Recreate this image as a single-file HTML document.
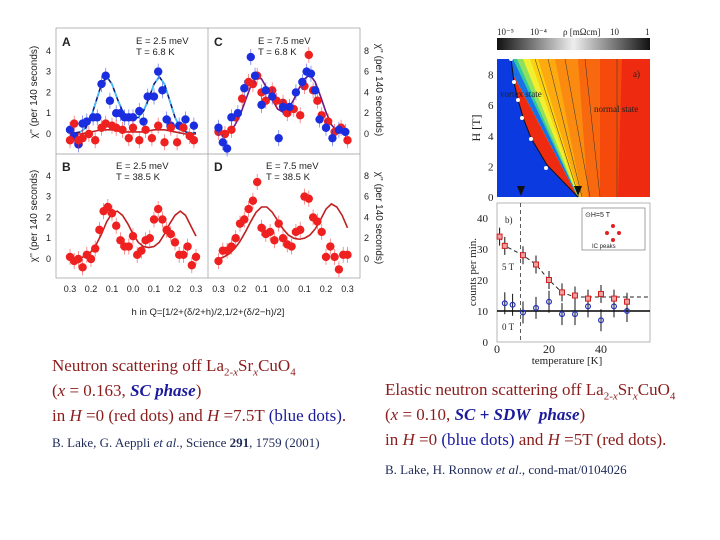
<!DOCTYPE html>
<html><head><meta charset="utf-8"><style>
body{margin:0;background:#fff;width:720px;height:540px;overflow:hidden;position:relative;font-family:"Liberation Serif",serif}
.t{position:absolute;white-space:nowrap;font-size:17px;color:#8a1c1c}
.b{color:#1a1a9a}
.cit{font-size:13px;color:#1e2a5a}
svg{position:absolute;left:0;top:0}
</style></head><body>
<svg id="s" width="720" height="540"></svg>

<div class="t" style="left:52px;top:356px">Neutron scattering off La<sub style="font-size:11px">2-<i>x</i></sub>Sr<sub style="font-size:11px"><i>x</i></sub>CuO<sub style="font-size:11px">4</sub></div>
<div class="t" style="left:52px;top:381px">(<i>x</i> = 0.163, <b class="b"><i>SC phase</i></b>)</div>
<div class="t" style="left:52px;top:406px">in <i>H</i> =0 (red dots) and <i>H</i> =7.5T <span class="b">(blue dots)</span>.</div>
<div class="t cit" style="left:52px;top:435px">B. Lake, G. Aeppli <i>et al</i>., Science <b>291</b>, 1759 (2001)</div>

<div class="t" style="left:385px;top:380px">Elastic neutron scattering off La<sub style="font-size:11px">2-<i>x</i></sub>Sr<sub style="font-size:11px"><i>x</i></sub>CuO<sub style="font-size:11px">4</sub></div>
<div class="t" style="left:385px;top:405px">(<i>x</i> = 0.10, <b class="b"><i>SC + SDW&nbsp; phase</i></b>)</div>
<div class="t" style="left:385px;top:430px">in <i>H</i> =0 <span class="b">(blue dots)</span> and <i>H</i> =5T (red dots).</div>
<div class="t cit" style="left:385px;top:462px">B. Lake, H. Ronnow <i>et al</i>., cond-mat/0104026</div>

<script>
// ---- data: panels A-D (h, chi'') ----
const hA_blue=[-0.3,-0.28,-0.26,-0.24,-0.22,-0.19,-0.17,-0.15,-0.13,-0.11,-0.08,-0.06,-0.04,-0.02,0.0,0.03,0.05,0.07,0.1,0.12,0.14,0.16,0.18,0.22,0.25,0.29];
const vA_blue=[0.2,-0.1,-0.5,0.5,0.6,0.8,0.8,2.4,2.8,1.6,1.0,1.0,0.8,0.8,0.8,1.1,0.6,1.8,1.8,3.0,2.1,0.7,0.4,0.4,0.7,0.4];
const hA_red=[-0.3,-0.28,-0.26,-0.24,-0.21,-0.18,-0.15,-0.13,-0.1,-0.08,-0.05,-0.02,0.0,0.03,0.06,0.09,0.12,0.15,0.18,0.21,0.24,0.27,0.29];
const vA_red=[-0.3,0.5,-0.3,-0.2,0.0,-0.3,0.3,0.5,0.4,0.3,0.2,-0.2,0.3,-0.3,0.2,-0.2,0.4,-0.4,0.3,-0.4,0.3,-0.1,-0.3];
const hFit=[-0.3,-0.275,-0.25,-0.225,-0.2,-0.175,-0.15,-0.125,-0.1,-0.075,-0.05,-0.025,0,0.025,0.05,0.075,0.1,0.125,0.15,0.175,0.2,0.225,0.25,0.275,0.3];
const fA_blue=[0.05,0.05,0.1,0.3,0.8,1.6,2.4,2.75,2.4,1.7,1.1,0.8,0.75,0.8,1.1,1.7,2.4,2.75,2.4,1.6,0.8,0.3,0.1,0.05,0.05];
const fA_red=[0,0,0,0.05,0.1,0.15,0.2,0.2,0.2,0.15,0.1,0.1,0.1,0.1,0.1,0.15,0.2,0.2,0.2,0.15,0.1,0.05,0,0,0];
const hB=[-0.3,-0.28,-0.26,-0.24,-0.22,-0.2,-0.18,-0.16,-0.14,-0.12,-0.1,-0.08,-0.06,-0.04,-0.02,0.0,0.02,0.04,0.06,0.08,0.1,0.12,0.14,0.16,0.18,0.2,0.22,0.24,0.26,0.28,0.3];
const vB=[0.1,-0.1,0.0,-0.4,0.2,0.0,0.5,1.4,2.3,2.5,2.2,1.6,0.9,0.6,0.6,1.1,0.2,0.4,0.9,1.0,1.9,2.4,1.9,1.4,1.2,0.8,0.2,0.2,0.6,-0.3,0.1];
const fB=[0,0,0.05,0.15,0.35,0.7,1.2,1.8,2.2,2.3,2.1,1.7,1.2,0.8,0.6,0.55,0.6,0.8,1.2,1.7,2.1,2.3,2.1,1.6,1.1,0.6,0.3,0.15,0.05,0,0];
const hC_blue=[-0.3,-0.28,-0.26,-0.24,-0.21,-0.18,-0.15,-0.13,-0.1,-0.08,-0.05,-0.02,0.0,0.03,0.06,0.09,0.11,0.13,0.15,0.17,0.2,0.23,0.26,0.29];
const vC_blue=[0.6,-0.8,-1.4,1.6,2.0,4.4,7.4,5.6,2.8,4.2,3.6,-0.4,2.6,2.6,4.0,5.0,6.0,5.8,4.2,1.4,0.6,-0.4,0.4,0.2];
const hC_red=[-0.3,-0.27,-0.24,-0.22,-0.19,-0.16,-0.14,-0.12,-0.1,-0.08,-0.05,-0.03,0.0,0.02,0.05,0.08,0.1,0.12,0.14,0.16,0.18,0.21,0.24,0.27,0.3];
const vC_red=[0.2,0.0,0.4,1.6,3.4,5.0,4.8,5.6,4.0,3.2,4.2,3.2,3.0,2.0,2.4,1.8,4.6,7.6,4.2,3.2,1.8,1.2,0.2,0.6,-0.6];
const fC=[0,0.1,0.3,0.8,1.8,3.2,4.6,5.5,5.3,4.4,3.3,2.4,2.1,2.4,3.3,4.4,5.3,5.7,5.0,3.6,2.1,0.9,0.3,0.1,0];
const hD=[-0.3,-0.28,-0.26,-0.24,-0.22,-0.2,-0.18,-0.16,-0.14,-0.12,-0.1,-0.08,-0.06,-0.04,-0.02,0.0,0.02,0.04,0.06,0.08,0.1,0.12,0.14,0.16,0.18,0.2,0.22,0.24,0.26,0.28,0.3];
const vD=[-0.2,0.8,0.8,1.2,2.0,3.4,3.8,4.8,5.6,7.4,3.0,2.4,2.6,1.8,3.4,2.0,1.4,1.2,2.6,2.8,6.0,5.8,4.0,3.6,2.6,0.2,1.2,0.2,-1.0,0.4,0.4];
const fD=[0,0.2,0.5,1.0,1.7,2.6,3.6,4.5,5.0,5.0,4.5,3.7,2.9,2.3,2.0,1.9,2.0,2.3,2.9,3.8,4.8,5.3,5.0,4.2,3.0,1.9,1.0,0.4,0.1,0,0];
// ---- data: panel b (T, counts) ----
const T_red=[1,3,10,15,20,25,30,35,40,45,50];
const c_red=[34,31,28,25,20,16,15,14,15.5,14,13];
const T_blue=[3,6,10,15,20,25,30,35,40,45,50];
const c_blue=[12.5,12,9.5,11,13,9,9,11.5,7,11.5,10];
const xTicks=[-0.3,-0.2,-0.1,0,0.1,0.2,0.3];
const xTickLabels=["0.3","0.2","0.1","0.0","0.1","0.2","0.3"];

const S=document.getElementById('s');const NS='http://www.w3.org/2000/svg';
function mk(tag,attrs,name,parent){const e=document.createElementNS(NS,tag);for(const k in attrs)e.setAttribute(k,attrs[k]);


(parent||S).appendChild(e);return e;}
function txt(x,y,s,name,extra){const e=mk('text',Object.assign({x:x,y:y,'font-family':'Liberation Sans, sans-serif','font-size':9,fill:'#222'},extra||{}),name);e.textContent=s;return e;}

const pL={x0:133,sx:210},pR={x0:283,sx:215};
const yTop0=134,yBot0=259,uL=20.8,uR=10.4;
mk('rect',{x:56,y:28,width:304,height:250,fill:'none',stroke:'#999','stroke-width':0.7},'panels-frame');
mk('line',{x1:208,y1:28,x2:208,y2:278,stroke:'#999','stroke-width':0.7},'panel-divider-v');
mk('line',{x1:56,y1:154,x2:360,y2:154,stroke:'#999','stroke-width':0.7},'panel-divider-h');
function panel(P,y0,u,series,fits,tag){
  fits.forEach(f=>{let d='';f.h.forEach((h,i)=>{d+=(i?'L':'M')+(P.x0+h*P.sx)+','+(y0-f.v[i]*u);});
    mk('path',{d:d,fill:'none',stroke:f.c,'stroke-width':1.6,'stroke-dasharray':f.dash||''},'fit-line-'+tag);});
  series.forEach(s=>{s.h.forEach((h,i)=>{const x=P.x0+h*P.sx,y=y0-s.v[i]*u;
    mk('line',{x1:x,y1:y-8,x2:x,y2:y+8,stroke:s.c,'stroke-width':0.8,opacity:0.6},'error-bar-'+tag);
    mk('circle',{cx:x,cy:y,r:4.2,fill:s.c},'point-'+tag);});});
}
panel(pL,yTop0,uL,[{h:hA_blue,v:vA_blue,c:'#1a2ee0'},{h:hA_red,v:vA_red,c:'#ee2020'}],[{h:hFit,v:fA_blue,c:'#0a1a7a'},{h:hFit,v:fA_blue,c:'#40c0ff',dash:'6,4'},{h:hFit,v:fA_red,c:'#c02020'}],'a');
panel(pL,yBot0,uL,[{h:hB,v:vB,c:'#ee2020'}],[{h:hFit,v:fB,c:'#c02020'}],'b');
panel(pR,yTop0,uR,[{h:hC_red,v:vC_red,c:'#ee2020'},{h:hC_blue,v:vC_blue,c:'#1a2ee0'}],[{h:hFit,v:fC,c:'#6a1a8a'}],'c');
panel(pR,yBot0,uR,[{h:hD,v:vD,c:'#ee2020'}],[{h:hFit,v:fD,c:'#c02020'}],'d');
[0,1,2,3,4].forEach(v=>{txt(46,yTop0-v*uL+3,String(v),'y-tick-a');txt(46,yBot0-v*uL+3,String(v),'y-tick-b');});
[0,2,4,6,8].forEach(v=>{txt(364,yTop0-v*uR+3,String(v),'y-tick-c');txt(364,yBot0-v*uR+3,String(v),'y-tick-d');});
xTicks.forEach((h,i)=>{txt(pL.x0+h*pL.sx,292,xTickLabels[i],'x-tick-left',{'text-anchor':'middle'});txt(pR.x0+h*pR.sx,292,xTickLabels[i],'x-tick-right',{'text-anchor':'middle'});});
txt(208,315,"h in Q=[1/2+(δ/2+h)/2,1/2+(δ/2−h)/2]",'x-axis-title',{'text-anchor':'middle','font-size':9.5});
txt(37,92,"χ'' (per 140 seconds)",'y-axis-title-top',{transform:'rotate(-90 37 92)','text-anchor':'middle','font-size':10});
txt(37,216,"χ'' (per 140 seconds)",'y-axis-title-bottom',{transform:'rotate(-90 37 216)','text-anchor':'middle','font-size':10});
txt(376,90,"χ'' (per 140 seconds)",'y-axis-title-right-top',{transform:'rotate(90 376 90)','text-anchor':'middle','font-size':10});
txt(376,218,"χ'' (per 140 seconds)",'y-axis-title-right-bottom',{transform:'rotate(90 376 218)','text-anchor':'middle','font-size':10});
[['A',62,46],['B',62,171],['C',214,46],['D',214,171]].forEach(a=>txt(a[1],a[2],a[0],'panel-label',{'font-weight':'bold','font-size':12}));
[['E = 2.5 meV',136,44],['T = 6.8 K',136,55],['E = 2.5 meV',116,169],['T = 38.5 K',116,180],['E = 7.5 meV',258,44],['T = 6.8 K',258,55],['E = 7.5 meV',266,169],['T = 38.5 K',266,180]].forEach(a=>txt(a[1],a[2],a[0],'panel-condition',{'font-size':9.5}));

// ---- right: phase diagram ----
const g=document.createElementNS(NS,'linearGradient');g.setAttribute('id','cb');
[['0','#111'],['0.5','#eee'],['1','#111']].forEach(s=>{const st=document.createElementNS(NS,'stop');st.setAttribute('offset',s[0]);st.setAttribute('stop-color',s[1]);g.appendChild(st);});
const defs=document.createElementNS(NS,'defs');defs.appendChild(g);S.appendChild(defs);
mk('rect',{x:497,y:38,width:153,height:12,fill:'url(#cb)'},'colorbar');
[['10⁻⁵',497],['10⁻⁴',530],['ρ [mΩcm]',563],['10',610],['1',645]].forEach(a=>txt(a[1],35,a[0],'colorbar-label',{'font-family':'Liberation Serif, serif'}));
mk('rect',{x:497,y:59,width:153,height:138,fill:'#ee2a10'},'phase-normal');
// bands: [color, top-right x, bottom-right x] drawn from widest to narrowest
const bands=[['#f54a0c',622,618],['#f8680e',600,600],['#fa8a10',578,588],['#fcaa10',555,582],['#fdd010',538,580],['#f0f030',530,579],['#90e060',523,578],['#30c8a0',517,578],['#1a70e8',513,578]];
bands.forEach(b=>mk('polygon',{points:`505,59 ${b[1]},59 ${b[2]},197 578,197`,fill:b[0]},'phase-band'));
mk('polygon',{points:'497,59 511,59 514,82 518,100 524,120 531,138 547,165 578,197 497,197',fill:'#0a3ae0'},'phase-vortex-sc');
[[535,59,579,197],[548,59,582,197],[565,59,590,197],[585,59,600,197],[617,59,617,197]].forEach(l=>mk('line',{x1:l[0],y1:l[1],x2:l[2],y2:l[3],stroke:'#333','stroke-width':0.5},'contour'));
mk('polyline',{points:'511,59 514,82 518,100 524,120 531,138 547,165 578,197',fill:'none',stroke:'#111','stroke-width':1},'phase-boundary');
[[511,59],[514,82],[518,100],[522,118],[531,139],[546,168]].forEach(p=>mk('circle',{cx:p[0],cy:p[1],r:2,fill:'#fff'},'hc2-point'));
[0,2,4,6,8].forEach(v=>txt(488,197-v*15.3+4,String(v),'y-tick-h',{'font-family':'Liberation Serif, serif','font-size':11}));
txt(480,128,'H [T]','y-axis-title-h',{transform:'rotate(-90 480 128)','text-anchor':'middle','font-family':'Liberation Serif, serif','font-size':12});
txt(633,77,'a)','panel-label-a',{'font-family':'Liberation Serif, serif'});
txt(500,97,'vortex state','vortex-label',{'font-family':'Liberation Serif, serif'});
txt(594,112,'normal state','normal-label',{'font-family':'Liberation Serif, serif'});
mk('polygon',{points:'574,186 582,186 578,196',fill:'#111'},'tc-marker');
mk('polygon',{points:'517,186 525,186 521,196',fill:'#111'},'tsdw-marker');

// ---- right: panel b ----
const bx=T=>497+T*2.6, by=c=>342-c*3.1;
mk('rect',{x:497,y:203,width:153,height:139,fill:'none',stroke:'#888','stroke-width':0.6},'panel-b-frame');
mk('line',{x1:497,y1:by(10),x2:650,y2:by(10),stroke:'#000','stroke-width':1.6},'baseline-10');
mk('line',{x1:bx(9),y1:203,x2:bx(9),y2:342,stroke:'#333','stroke-width':0.8,'stroke-dasharray':'4,3'},'tc-dashed-line');
let dd='';T_red.slice(0,6).forEach((T,i)=>{dd+=(i?'L':'M')+bx(T)+','+by(c_red[i]);});dd+='L'+bx(30)+','+by(14.5)+'L650,'+by(14.5);
mk('path',{d:dd,fill:'none',stroke:'#222','stroke-width':1,'stroke-dasharray':'4,3'},'fit-5T');
T_blue.forEach((T,i)=>{mk('line',{x1:bx(T),y1:by(c_blue[i])-11,x2:bx(T),y2:by(c_blue[i])+11,stroke:'#111'},'error-bar-0T');mk('circle',{cx:bx(T),cy:by(c_blue[i]),r:2.4,fill:'none',stroke:'#2030c0','stroke-width':1.2},'point-0T');});
T_red.forEach((T,i)=>{mk('line',{x1:bx(T),y1:by(c_red[i])-9,x2:bx(T),y2:by(c_red[i])+9,stroke:'#111'},'error-bar-5T');mk('rect',{x:bx(T)-2.5,y:by(c_red[i])-2.5,width:5,height:5,fill:'#f0a0a0',stroke:'#d02020'},'point-5T');});
[0,10,20,30,40].forEach(v=>txt(488,by(v)+4,String(v),'y-tick-counts',{'font-family':'Liberation Serif, serif','font-size':11,'text-anchor':'end'}));
[0,20,40].forEach(v=>txt(bx(v),353,String(v),'x-tick-temp',{'font-family':'Liberation Serif, serif','font-size':12,'text-anchor':'middle'}));
txt(567,364,'temperature [K]','x-axis-title-temp',{'text-anchor':'middle','font-family':'Liberation Serif, serif','font-size':11});
txt(476,272,'counts per min.','y-axis-title-counts',{transform:'rotate(-90 476 272)','text-anchor':'middle','font-family':'Liberation Serif, serif','font-size':11});
txt(505,223,'b)','panel-label-b',{'font-family':'Liberation Serif, serif'});
txt(502,270,'5 T','label-5T',{'font-family':'Liberation Serif, serif'});
txt(502,330,'0 T','label-0T',{'font-family':'Liberation Serif, serif'});
mk('rect',{x:582,y:208,width:63,height:42,fill:'#fff',stroke:'#666','stroke-width':0.6},'inset');
txt(585,217,'⊙H=5 T','inset-title',{'font-size':7});
[[613,226],[607,233],[619,233],[613,240]].forEach(p=>mk('circle',{cx:p[0],cy:p[1],r:2,fill:'#e02020'},'inset-peak'));
txt(592,248,'IC peaks','inset-label',{'font-size':6});
</script>
</body></html>
